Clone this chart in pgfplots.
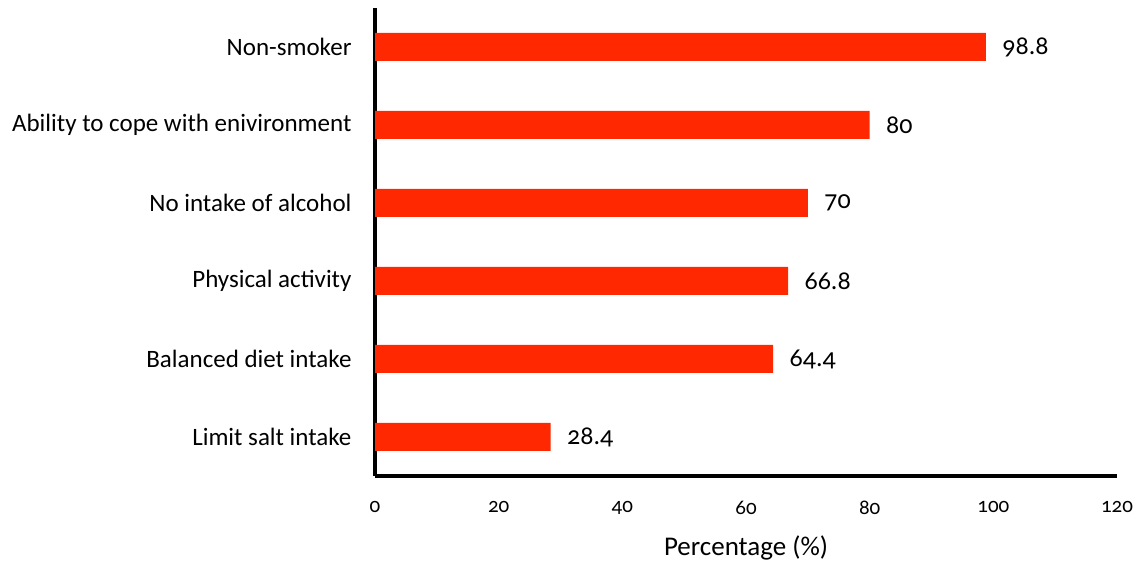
\documentclass[border=0pt]{standalone}
\usepackage{pgfplots}
\pgfplotsset{compat=1.18}
\usepackage{fontspec}
\setmainfont{Carlito}
\newfontfamily\numfont[Numbers=OldStyle]{Carlito}
\definecolor{barred}{RGB}{255,40,0}
\begin{document}
\begin{tikzpicture}
\path[use as bounding box] (0,0) rectangle (1140pt,567pt);
\begin{axis}[
  at={(375pt,91pt)}, anchor=south west,
  width=742pt, height=468pt, scale only axis,
  xbar, bar width=28pt,
  xmin=0, xmax=120, ymin=-0.5, ymax=5.5,
  axis x line*=bottom, axis y line*=left,
  axis line style={line width=3.5pt, black},
  major tick length=0pt,
  xtick={0,20,40,60,80,100,120},
  xticklabels={0,20,40,60,80,100,120},
  ytick={0,1,2,3,4,5},
  yticklabels={Limit salt intake, Balanced diet intake, Physical activity\hspace{4pt}, No intake of alcohol, Ability to cope with enivironment\hspace{4pt}, Non-smoker},
  /pgf/number format/assume math mode=true,
  xticklabel style={font=\fontsize{21}{25}\selectfont\numfont, yshift=-22pt},
  yticklabel style={font=\fontsize{25}{30}\selectfont, xshift=-20pt},
  xlabel={Percentage (\%)},
  xlabel style={font=\fontsize{27}{32}\selectfont, at={(axis description cs:0.5,0)}, anchor=center, yshift=-72pt},
  nodes near coords,
  nodes near coords style={font=\fontsize{26}{31}\selectfont\numfont, anchor=west, xshift=13pt, text=black},
]
\addplot[fill=barred, draw=none] coordinates {(28.4,0) (64.4,1) (66.8,2) (70,3) (80,4) (98.8,5)};
\end{axis}
\end{tikzpicture}
\end{document}
